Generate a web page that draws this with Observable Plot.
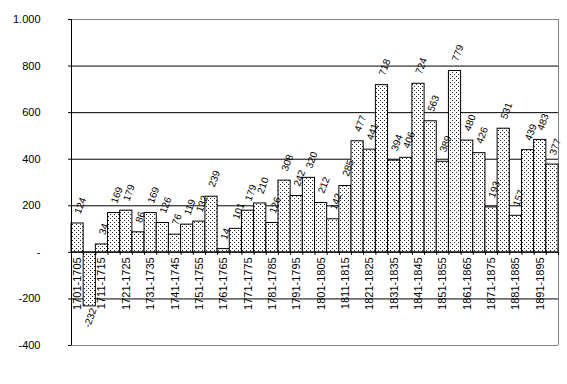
<!DOCTYPE html>
<html>
<head>
<meta charset="utf-8">
<script src="https://cdn.jsdelivr.net/npm/d3@7"></script>
<script src="https://cdn.jsdelivr.net/npm/@observablehq/plot@0.6"></script>
<style>
  html, body { margin: 0; padding: 0; background: white; }
</style>
</head>
<body>
<div id="chart"></div>
<script>
const categories = [
  "1701-1705","1706-1710","1711-1715","1716-1720","1721-1725","1726-1730",
  "1731-1735","1736-1740","1741-1745","1746-1750","1751-1755","1756-1760",
  "1761-1765","1766-1770","1771-1775","1776-1780","1781-1785","1786-1790",
  "1791-1795","1796-1800","1801-1805","1806-1810","1811-1815","1816-1820",
  "1821-1825","1826-1830","1831-1835","1836-1840","1841-1845","1846-1850",
  "1851-1855","1856-1860","1861-1865","1866-1870","1871-1875","1876-1880",
  "1881-1885","1886-1890","1891-1895","1896-1900"
];
const values = [
  124, -232, 34, 169, 179, 86,
  169, 126, 76, 119, 132, 239,
  14, 101, 179, 210, 126, 308,
  242, 320, 212, 142, 285, 477,
  441, 718, 394, 406, 724, 563,
  389, 779, 480, 426, 193, 531,
  157, 439, 483, 377
];
const yDomain = [-400, 1000];
const yTicks = [-400, -200, 0, 200, 400, 600, 800, 1000];
const gridValues = [-200, 200, 400, 600, 800];

const data = categories.map((c, i) => ({period: c, i, value: values[i]}));
const xTickLabels = data.filter(d => d.i % 2 === 0);
const boundaries = d3.range(categories.length + 1);
const positives = data.filter(d => d.value >= 0);
const negatives = data.filter(d => d.value < 0);

const fmt = d => d === 0 ? "-" : d === 1000 ? "1.000" : String(d);

const svg = Plot.plot({
  width: 567,
  height: 384,
  marginLeft: 71,
  marginRight: 9,
  marginTop: 19,
  marginBottom: 39,
  x: {domain: [0, categories.length], axis: null},
  y: {domain: yDomain, axis: null},
  style: {fontFamily: "Arial, 'Liberation Sans', sans-serif", fontSize: "11px", color: "black", background: "white"},
  marks: [
    Plot.ruleY(yDomain, {stroke: "#808080"}),
    Plot.ruleX([categories.length], {stroke: "#808080"}),
    Plot.ruleY(gridValues, {stroke: "black"}),
    Plot.rectY(data, {x1: "i", x2: d => d.i + 1, y: "value", fill: "url(#dots)", stroke: "black", strokeWidth: 1}),
    Plot.ruleY([0], {stroke: "black"}),
    Plot.ruleX([0], {stroke: "black"}),
    Plot.ruleX(boundaries, {y1: () => 0, y2: () => -13, stroke: "black"}),
    Plot.axisY({ticks: yTicks, tickSize: 3, tickPadding: 28, tickFormat: fmt, fontSize: 11, label: null}),
    Plot.text(xTickLabels, {x: d => d.i + 0.5, y: () => 0, text: "period", rotate: -90, textAnchor: "end", dy: 5, fontSize: 11, fill: "black"}),
    Plot.text(positives, {x: d => d.i + 0.5, y: "value", text: d => String(d.value), rotate: -70, textAnchor: "start", dx: 0, dy: -10, fontSize: 10, fill: "black"}),
    Plot.text(negatives, {x: d => d.i + 0.5, y: "value", text: d => String(d.value), rotate: -70, textAnchor: "end", dx: 4, dy: 2, fontSize: 10, fill: "black"})
  ]
});

const ns = "http://www.w3.org/2000/svg";
const defs = document.createElementNS(ns, "defs");
const pattern = document.createElementNS(ns, "pattern");
pattern.setAttribute("id", "dots");
pattern.setAttribute("patternUnits", "userSpaceOnUse");
pattern.setAttribute("width", "4");
pattern.setAttribute("height", "4");
const bg = document.createElementNS(ns, "rect");
bg.setAttribute("width", "4"); bg.setAttribute("height", "4"); bg.setAttribute("fill", "white");
pattern.appendChild(bg);
for (const [px, py] of [[0, 0], [2, 2]]) {
  const r = document.createElementNS(ns, "rect");
  r.setAttribute("x", px); r.setAttribute("y", py);
  r.setAttribute("width", "1"); r.setAttribute("height", "1");
  r.setAttribute("fill", "#222");
  pattern.appendChild(r);
}
defs.appendChild(pattern);
svg.insertBefore(defs, svg.firstChild);
document.getElementById("chart").appendChild(svg);
</script>
</body>
</html>
